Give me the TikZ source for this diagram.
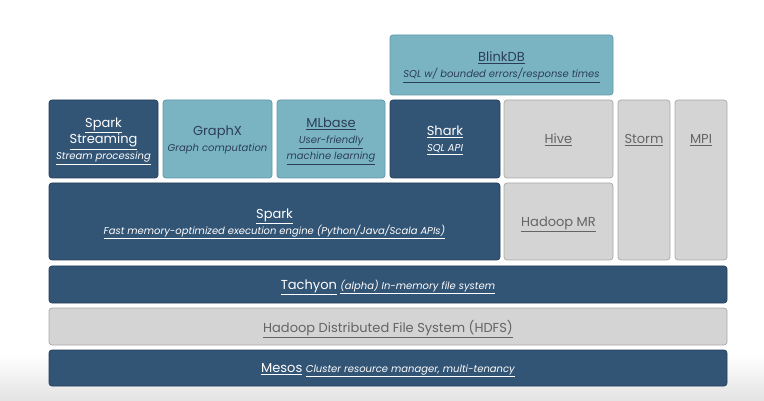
\documentclass[tikz,border=0pt]{standalone}
\usepackage{fontspec}
\setmainfont{Poppins}
\definecolor{dkblue}{HTML}{325475}
\definecolor{dkborder}{HTML}{243F5A}
\definecolor{teal}{HTML}{7AB4C3}
\definecolor{tealborder}{HTML}{5E95A4}
\definecolor{lgray}{HTML}{D4D4D4}
\definecolor{gborder}{HTML}{A9A9A9}
\definecolor{gtext}{HTML}{646464}
\definecolor{ttext}{HTML}{2C3E55}
\newcommand\uln[1]{\raisebox{0pt}[\height][0pt]{\underline{#1}}}
\newcommand\ttl[1]{{\fontsize{13}{16}\selectfont\uln{#1}}}
\newcommand\sub[1]{{\fontsize{10}{16}\selectfont\itshape\uln{#1}}}
\tikzset{
  box/.style={rounded corners=3pt, line width=0.7pt, anchor=north west, inner sep=1pt, align=center, outer sep=0pt, font=\fontsize{13}{16}\selectfont},
  darkbox/.style={box, fill=dkblue, draw=dkborder, text=white},
  tealbox/.style={box, fill=teal, draw=tealborder, text=ttext},
  graybox/.style={box, fill=lgray, draw=gborder, text=gtext},
}
\begin{document}
\begin{tikzpicture}[x=1pt,y=-1pt]
\useasboundingbox (0,0) rectangle (764,401);
\shade[top color=white, bottom color=black!11] (0,355) rectangle (764,401);
% BlinkDB
\node[tealbox, minimum width=223pt, minimum height=60pt] (blink) at (390,35)
  {\ttl{BlinkDB}\\\sub{SQL w/ bounded errors/response times}};
% row 2
\node[darkbox, minimum width=109pt, minimum height=78pt] (stream) at (49,100)
  {\ttl{Spark}\\\ttl{Streaming}\\\sub{Stream processing}};
\node[tealbox, minimum width=109pt, minimum height=78pt] (graphx) at (163,100)
  {GraphX\\{\fontsize{10}{16}\selectfont\itshape\raisebox{0pt}[\height][0pt]{Graph computation}}};
\node[tealbox, minimum width=108pt, minimum height=78pt] (mlbase) at (277,100)
  {\ttl{MLbase}\\\sub{User-friendly}\\\sub{machine learning}};
\node[darkbox, minimum width=110pt, minimum height=78pt] (shark) at (390,100)
  {\ttl{Shark}\\\sub{SQL API}};
\node[graybox, minimum width=109pt, minimum height=78pt] (hive) at (504,100)
  {\ttl{Hive}};
\node[graybox, minimum width=52pt, minimum height=160pt] (storm) at (618,100) {};
\node[text=gtext] (stormlbl) at (storm.center |- hive.center) {\ttl{Storm}};
\node[graybox, minimum width=52pt, minimum height=160pt] (mpi) at (675,100) {};
\node[text=gtext] (mpilbl) at (mpi.center |- hive.center) {\ttl{MPI}};
% row 3
\node[darkbox, minimum width=451pt, minimum height=77pt] (spark) at (49,183)
  {\ttl{Spark}\\\sub{Fast memory-optimized execution engine (Python/Java/Scala APIs)}};
\node[graybox, minimum width=109pt, minimum height=77pt] (hmr) at (504,183)
  {\ttl{Hadoop MR}};
% bottom layers
\node[darkbox, minimum width=678pt, minimum height=37pt] (tachyon) at (49,266)
  {\ttl{Tachyon} \sub{(alpha) In-memory file system}};
\node[graybox, minimum width=678pt, minimum height=37pt] (hdfs) at (49,308)
  {\ttl{Hadoop Distributed File System (HDFS)}};
\node[darkbox, minimum width=678pt, minimum height=36pt] (mesos) at (49,350)
  {\ttl{Mesos} \sub{Cluster resource manager, multi-tenancy}};
\end{tikzpicture}
\end{document}
